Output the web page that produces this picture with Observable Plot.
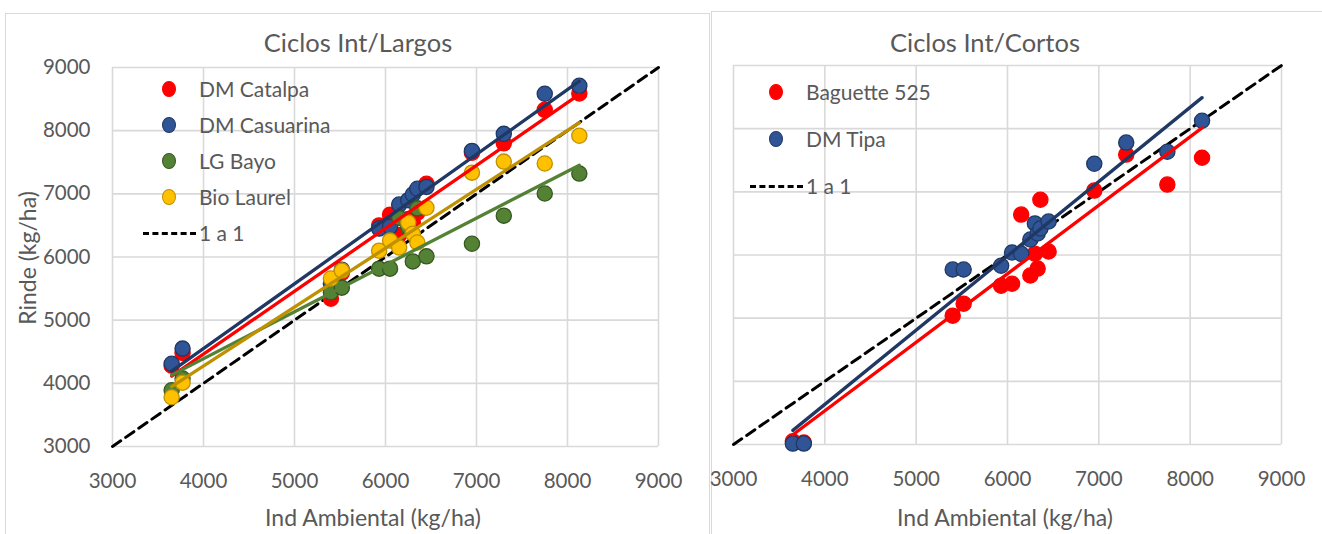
<!DOCTYPE html>
<html><head><meta charset="utf-8">
<script src="https://cdn.jsdelivr.net/npm/d3@7"></script>
<script src="https://cdn.jsdelivr.net/npm/@observablehq/plot@0.6"></script>
<style>
body{margin:0;background:#fff;width:1322px;height:534px;overflow:hidden;position:relative;font-family:Lato,"Open Sans",sans-serif;color:#595959}
.panel{position:absolute;border:1px solid #d9d9d9;background:#fff;box-sizing:border-box}
.title{position:absolute;text-align:center;font-size:25.5px;line-height:30px;white-space:nowrap}
.txt{position:absolute;font-size:21px;line-height:24px;white-space:nowrap}
.axt{position:absolute;font-size:23px;line-height:26px;white-space:nowrap}
.dot{position:absolute;width:14px;height:16px;border-radius:50%;box-sizing:border-box}
.dash{position:absolute;height:0;border-top:3px dashed #000}
.chart{position:absolute}
.chart svg{overflow:visible}
</style></head><body>
<div id="left" class="panel" style="left:5px;top:13px;width:705px;height:540px"></div>
<div id="right" class="panel" style="left:711px;top:11px;width:640px;height:540px"></div>
<div id="overlay"></div>
<script>
// ---- data ----
const axisTicks = [3000, 4000, 5000, 6000, 7000, 8000, 9000];
const oneToOne = [3000, 9000];

// Ciclos Int/Largos
const envLargos = [3650, 3770, 5400, 5520, 5930, 6050, 6150, 6250, 6300, 6350, 6450, 6950, 7300, 7750, 8130];
const seriesLargos = ["DM Catalpa", "DM Casuarina", "LG Bayo", "Bio Laurel"];
const catalpa   = [4280, 4480, 5340, 5750, 6500, 6670, 6350, 6600, 6550, 6700, 7160, 7650, 7800, 8330, 8590];
const casuarina = [4310, 4550, 5580, 5800, 6450, 6480, 6830, 6900, 6990, 7080, 7110, 7680, 7950, 8585, 8710];
const bayo      = [3890, 4075, 5440, 5515, 5815, 5815, 6620, 6470, 5930, 6770, 6010, 6210, 6655, 7005, 7320];
const laurel    = [3780, 4010, 5660, 5785, 6100, 6260, 6150, 6545, 6370, 6230, 6780, 7335, 7510, 7480, 7920];

// Ciclos Int/Cortos
const envCortos = [3650, 3770, 5400, 5520, 5930, 6050, 6150, 6250, 6300, 6330, 6360, 6450, 6950, 7300, 7750, 8130];
const seriesCortos = ["Baguette 525", "DM Tipa"];
const baguette = [3050, 3030, 5040, 5230, 5515, 5545, 6640, 5675, 6020, 5785, 6875, 6055, 7020, 7590, 7115, 7540];
const tipa     = [3015, 3015, 5770, 5770, 5830, 6040, 6020, 6245, 6500, 6340, 6420, 6530, 7445, 7780, 7635, 8125];

// ---- styles ----
const styleLargos = [
  {fill:"#FF0000", stroke:"#FF0000", line:"#FF0000"},
  {fill:"#2F5597", stroke:"#1F3864", line:"#203864"},
  {fill:"#548235", stroke:"#385723", line:"#548235"},
  {fill:"#FFC000", stroke:"#BF9000", line:"#BF9000"}
];
const styleCortos = [
  {fill:"#FF0000", stroke:"#FF0000", line:"#FF0000"},
  {fill:"#2F5597", stroke:"#1F3864", line:"#203864"}
];

function rows(env, names, values) {
  return names.map((name, i) => values[i].map((y, j) => ({serie: name, x: env[j], y})));
}

function chart({env, names, values, styles, width, height, ml, mr, mt, mb, showY}) {
  const groups = rows(env, names, values);
  const gridStyle = {stroke:"#d9d9d9", strokeOpacity:1, strokeWidth:1.6};
  return Plot.plot({
    width, height, marginLeft: ml, marginRight: mr, marginTop: mt, marginBottom: mb,
    x: {domain:[3000, 9000]},
    y: {domain:[3000, 9000]},
    style: {fontFamily:"Lato, 'Open Sans', sans-serif", fontSize:"20px", color:"#595959", background:"transparent", overflow:"visible"},
    marks: [
      Plot.gridX(axisTicks, gridStyle),
      Plot.gridY(axisTicks, gridStyle),
      Plot.axisX(axisTicks, {tickSize:0, tickPadding:27, fontSize:20.5, tickFormat:"d", label:null}),
      showY ? Plot.axisY(axisTicks, {tickSize:0, tickPadding:22, fontSize:20.5, tickFormat:"d", label:null}) : Plot.axisY({ticks:[], label:null, tickSize:0}),
      Plot.line(oneToOne, {x:d=>d, y:d=>d, stroke:"#000", strokeWidth:3, strokeDasharray:"10,6"}),
      ...groups.map((g, i) => Plot.dot(g, {x:"x", y:"y", r:7.6, fill:styles[i].fill, stroke:styles[i].stroke, strokeWidth:1.3})),
      ...groups.map((g, i) => Plot.linearRegressionY(g, {x:"x", y:"y", stroke:styles[i].line, strokeWidth:3.3, ci:0}))
    ]
  });
}

// left panel (inner origin at page 6,14)
const left = document.getElementById("left");
const lc = document.createElement("div"); lc.className = "chart"; lc.style.left = "0px"; lc.style.top = "41px";
lc.appendChild(chart({env:envLargos, names:seriesLargos, values:[catalpa, casuarina, bayo, laurel], styles:styleLargos,
  width:703, height:479, ml:106, mr:51, mt:12, mb:88, showY:true}));
left.appendChild(lc);

// right panel (inner origin at page 712,12)
const right = document.getElementById("right");
const rc = document.createElement("div"); rc.className = "chart"; rc.style.left = "0px"; rc.style.top = "43px";
rc.appendChild(chart({env:envCortos, names:seriesCortos, values:[baguette, tipa], styles:styleCortos,
  width:610, height:479, ml:21, mr:41, mt:10, mb:90, showY:false}));
right.appendChild(rc);

// ---- text & legends (page coordinates) ----
const ov = document.getElementById("overlay");
function addText(text, cx, cy, cls, extra) {
  const d = document.createElement("div"); d.className = cls; d.textContent = text;
  d.style.left = cx + "px"; d.style.top = cy + "px"; d.style.transform = "translate(-50%,-50%)" + (extra || "");
  ov.appendChild(d); return d;
}
function addLeftText(text, x, cy) {
  const d = document.createElement("div"); d.className = "txt"; d.textContent = text;
  d.style.left = x + "px"; d.style.top = (cy - 12) + "px"; ov.appendChild(d);
}
function addDot(cx, cy, s) {
  const d = document.createElement("div"); d.className = "dot";
  d.style.left = (cx - 7) + "px"; d.style.top = (cy - 8) + "px";
  d.style.background = s.fill; d.style.border = "1.3px solid " + s.stroke; ov.appendChild(d);
}
function addDash(x0, x1, cy) {
  const d = document.createElement("div"); d.className = "dash";
  d.style.left = x0 + "px"; d.style.width = (x1 - x0) + "px"; d.style.top = (cy - 1.5) + "px"; ov.appendChild(d);
}

addText("Ciclos Int/Largos", 358, 42, "title");
addText("Ciclos Int/Cortos", 985, 42, "title");
addText("Ind Ambiental (kg/ha)", 373, 517, "axt");
addText("Ind Ambiental (kg/ha)", 1005, 517, "axt");
addText("Rinde (kg/ha)", 27, 258, "axt", " rotate(-90deg)");

seriesLargos.forEach((name, i) => { addDot(169, 89 + 36 * i, styleLargos[i]); addLeftText(name, 199, 89 + 36 * i); });
addDash(143, 196, 233); addLeftText("1 a 1", 199, 233);

seriesCortos.forEach((name, i) => { addDot(776, 92 + 47 * i, styleCortos[i]); addLeftText(name, 806, 92 + 47 * i); });
addDash(750, 803, 186); addLeftText("1 a 1", 806, 186);
</script></body></html>
